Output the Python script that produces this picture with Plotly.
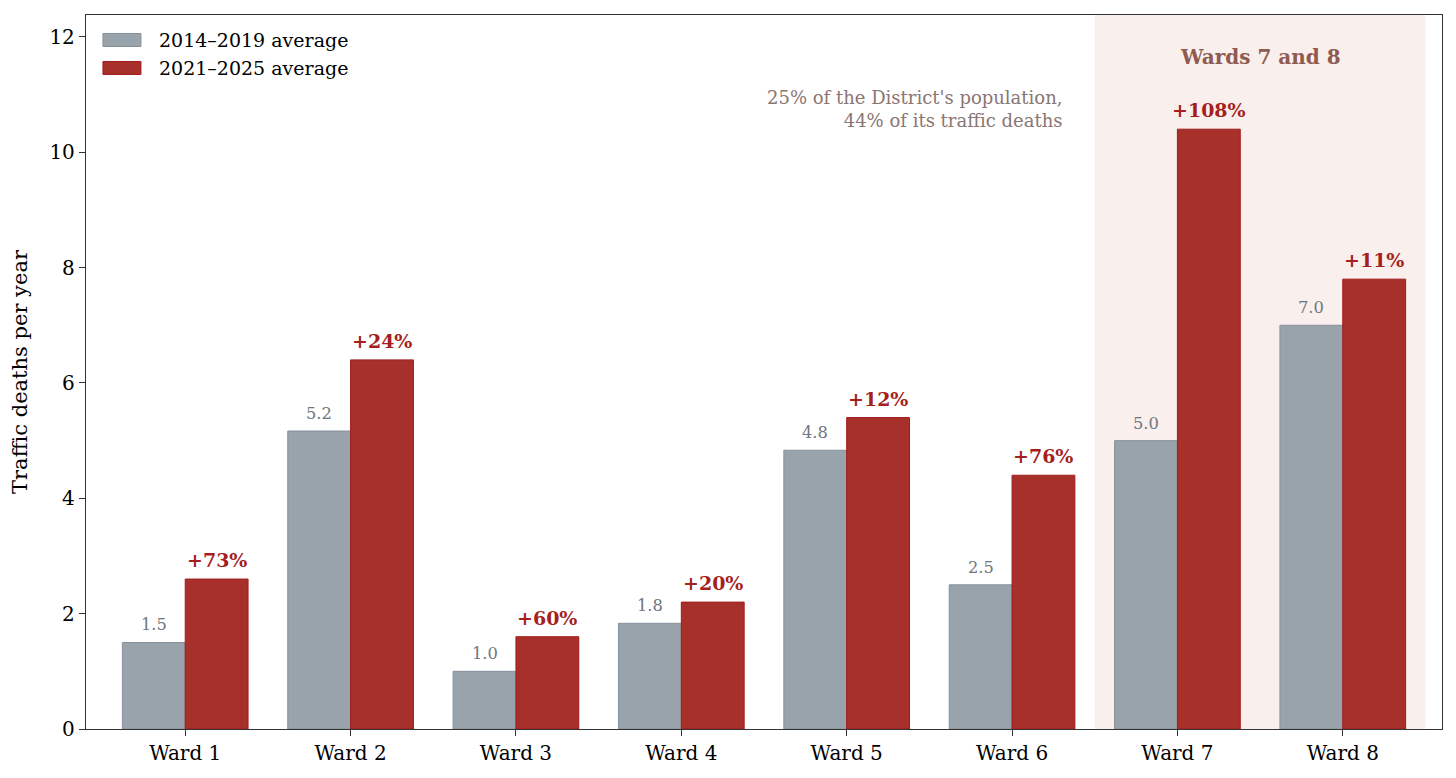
import plotly.graph_objects as go

# Traffic deaths per year by ward, DC
wards = ['Ward 1', 'Ward 2', 'Ward 3', 'Ward 4', 'Ward 5', 'Ward 6', 'Ward 7', 'Ward 8']
avg_2014_2019 = [1.5, 5.1667, 1.0, 1.8333, 4.8333, 2.5, 5.0, 7.0]
avg_2021_2025 = [2.6, 6.4, 1.6, 2.2, 5.4, 4.4, 10.4, 7.8]
pct_change = ['+73%', '+24%', '+60%', '+20%', '+12%', '+76%', '+108%', '+11%']
series_names = ['2014–2019 average', '2021–2025 average']

FONT = 'DejaVu Serif'
GRAY = '#99a3ab'
RED = '#a8302a'
GRAY_EDGE = '#87919a'
RED_EDGE = '#a01c1c'
BW = 0.38

xs = list(range(len(wards)))

fig = go.Figure()
fig.add_bar(
    x=xs, y=avg_2014_2019, name=series_names[0],
    offset=-BW, width=BW,
    marker=dict(color=GRAY, line=dict(color=GRAY_EDGE, width=1)),
)
fig.add_bar(
    x=xs, y=avg_2021_2025, name=series_names[1],
    offset=0, width=BW,
    marker=dict(color=RED, line=dict(color=RED_EDGE, width=1)),
)

# -- value labels
for i, (a, b, p) in enumerate(zip(avg_2014_2019, avg_2021_2025, pct_change)):
    fig.add_annotation(x=i - BW / 2, y=a, text=f'{a:.1f}', showarrow=False,
                       yanchor='bottom', yshift=6,
                       font=dict(family=FONT, size=16.3, color='#6e7780'))
    fig.add_annotation(x=i + BW / 2, y=b, text=f'<b>{p}</b>', showarrow=False,
                       yanchor='bottom', yshift=6,
                       font=dict(family=FONT, size=19, color='#a51f1f'))

# -- Wards 7 and 8 highlight
fig.add_shape(type='rect', xref='x', yref='y domain', x0=5.5, x1=7.5, y0=0, y1=1,
              fillcolor='#f9efed', line_width=0, layer='below')
fig.add_annotation(x=6.5, y=11.65, text='<b>Wards 7 and 8</b>', showarrow=False,
                   font=dict(family=FONT, size=20, color='#8f5a50'))
fig.add_annotation(x=5.32, y=10.75, xanchor='right', align='right', showarrow=False,
                   text="25% of the District's population,<br>44% of its traffic deaths",
                   font=dict(family=FONT, size=18, color='#8a7672'))

# -- legend drawn by hand to get matplotlib-style wide swatches
for row, (name, col, edge) in enumerate(zip(series_names, [GRAY, RED], [GRAY_EDGE, RED_EDGE])):
    ya = 0.965 - row * 0.0392
    fig.add_shape(type='rect', xref='x domain', yref='y domain',
                  xsizemode='pixel', ysizemode='pixel',
                  xanchor=0.0125, yanchor=ya, x0=0, x1=38, y0=-6.5, y1=6.5,
                  fillcolor=col, line=dict(color=edge, width=1))
    fig.add_annotation(xref='x domain', yref='y domain', x=0.0524, y=ya,
                       xanchor='left', yanchor='middle', showarrow=False,
                       text=name, font=dict(family=FONT, size=19, color='black'))

# page has an 8px body margin, so size the figure to fit inside the window
fig.update_layout(
    width=1440, height=762,
    margin=dict(l=78, r=6, t=7, b=41),
    barmode='overlay',
    plot_bgcolor='white', paper_bgcolor='white',
    font=dict(family=FONT, size=20, color='black'),
    showlegend=False,
)
fig.update_xaxes(
    range=[-0.6, 7.6], tickvals=xs, ticktext=wards,
    showgrid=False, zeroline=False,
    showline=True, mirror=True, linecolor='#333333', linewidth=1.3,
    ticks='outside', ticklen=6, tickcolor='#333333',
)
fig.update_yaxes(
    range=[0, 12.38], tickvals=[0, 2, 4, 6, 8, 10, 12],
    title=dict(text='Traffic deaths per year', font=dict(size=21), standoff=16),
    showgrid=False, zeroline=False,
    showline=True, mirror=True, linecolor='#333333', linewidth=1.3,
    ticks='outside', ticklen=6, tickcolor='#333333',
)

fig.write_html('out.html')
